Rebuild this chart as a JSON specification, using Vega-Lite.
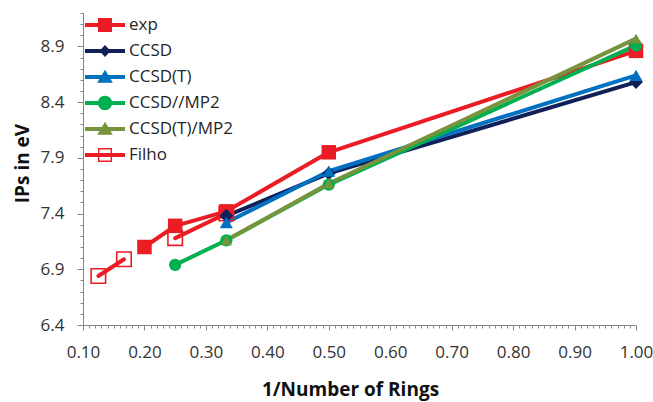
{
  "$schema": "https://vega.github.io/schema/vega-lite/v6.json",
  "width": 553,
  "height": 312,
  "autosize": "none",
  "padding": {"left": 83, "top": 13, "right": 17, "bottom": 77},
  "background": "white",
  "config": {
    "view": {"stroke": null},
    "font": "Open Sans",
    "axis": {
      "grid": false,
      "domainColor": "#868686",
      "domainWidth": 1,
      "tickColor": "#868686",
      "tickWidth": 1,
      "labelFont": "Open Sans",
      "labelFontSize": 17,
      "labelColor": "#333333",
      "labelOverlap": false,
      "labelBound": false,
      "labelFlush": false,
      "titleFont": "Open Sans",
      "titleFontSize": 19,
      "titleFontWeight": "bold",
      "titleColor": "#111111"
    }
  },
  "data": {
    "values": [
      {"x": 0.125, "y": 6.84, "series": "Filho", "seg": "a"},
      {"x": 0.1667, "y": 6.99, "series": "Filho", "seg": "a"},
      {"x": 0.25, "y": 7.18, "series": "Filho", "seg": "b"},
      {"x": 0.3333, "y": 7.4, "series": "Filho", "seg": "b"},
      {"x": 0.2, "y": 7.1, "series": "exp", "seg": "a"},
      {"x": 0.25, "y": 7.29, "series": "exp", "seg": "a"},
      {"x": 0.3333, "y": 7.42, "series": "exp", "seg": "a"},
      {"x": 0.5, "y": 7.95, "series": "exp", "seg": "a"},
      {"x": 1.0, "y": 8.86, "series": "exp", "seg": "a"},
      {"x": 0.3333, "y": 7.38, "series": "CCSD", "seg": "a"},
      {"x": 0.5, "y": 7.76, "series": "CCSD", "seg": "a"},
      {"x": 1.0, "y": 8.58, "series": "CCSD", "seg": "a"},
      {"x": 0.3333, "y": 7.32, "series": "CCSD(T)", "seg": "a"},
      {"x": 0.5, "y": 7.78, "series": "CCSD(T)", "seg": "a"},
      {"x": 1.0, "y": 8.64, "series": "CCSD(T)", "seg": "a"},
      {"x": 0.25, "y": 6.94, "series": "CCSD//MP2", "seg": "a"},
      {"x": 0.3333, "y": 7.16, "series": "CCSD//MP2", "seg": "a"},
      {"x": 0.5, "y": 7.66, "series": "CCSD//MP2", "seg": "a"},
      {"x": 1.0, "y": 8.91, "series": "CCSD//MP2", "seg": "a"},
      {"x": 0.3333, "y": 7.16, "series": "CCSD(T)/MP2", "seg": "a"},
      {"x": 0.5, "y": 7.67, "series": "CCSD(T)/MP2", "seg": "a"},
      {"x": 1.0, "y": 8.97, "series": "CCSD(T)/MP2", "seg": "a"}
    ]
  },
  "encoding": {
    "x": {
      "field": "x",
      "type": "quantitative",
      "scale": {"domain": [0.1, 1.0], "nice": false, "zero": false},
      "axis": {
        "title": "1/Number of Rings",
        "values": [0.10,0.11,0.12,0.13,0.14,0.15,0.16,0.17,0.18,0.19,0.20,0.21,0.22,0.23,0.24,0.25,0.26,0.27,0.28,0.29,0.30,0.31,0.32,0.33,0.34,0.35,0.36,0.37,0.38,0.39,0.40,0.41,0.42,0.43,0.44,0.45,0.46,0.47,0.48,0.49,0.50,0.51,0.52,0.53,0.54,0.55,0.56,0.57,0.58,0.59,0.60,0.61,0.62,0.63,0.64,0.65,0.66,0.67,0.68,0.69,0.70,0.71,0.72,0.73,0.74,0.75,0.76,0.77,0.78,0.79,0.80,0.81,0.82,0.83,0.84,0.85,0.86,0.87,0.88,0.89,0.90,0.91,0.92,0.93,0.94,0.95,0.96,0.97,0.98,0.99,1.00],
        "labelExpr": "abs(datum.value * 10 - round(datum.value * 10)) < 0.001 ? format(datum.value, '.2f') : ''",
        "tickSize": {"condition": {"test": "abs(datum.value * 10 - round(datum.value * 10)) < 0.001", "value": 5}, "value": 3},
        "labelPadding": 14,
        "titleX": 267,
        "titleY": 70,
        "titleBaseline": "alphabetic"
      }
    },
    "y": {
      "field": "y",
      "type": "quantitative",
      "scale": {"domain": [6.4, 9.2], "nice": false, "zero": false},
      "axis": {
        "title": "IPs in eV",
        "values": [6.4,6.5,6.6,6.7,6.8,6.9,7.0,7.1,7.2,7.3,7.4,7.5,7.6,7.7,7.8,7.9,8.0,8.1,8.2,8.3,8.4,8.5,8.6,8.7,8.8,8.9,9.0,9.1,9.2],
        "labelExpr": "abs((datum.value - 6.4) / 0.5 - round((datum.value - 6.4) / 0.5)) < 0.001 ? format(datum.value, '.1f') : ''",
        "tickSize": {"condition": {"test": "abs((datum.value - 6.4) / 0.5 - round((datum.value - 6.4) / 0.5)) < 0.001", "value": 6}, "value": 3},
        "labelPadding": 13,
        "titleX": -61,
        "titleY": 150,
        "titleBaseline": "middle"
      }
    },
    "color": {
      "field": "series",
      "type": "nominal",
      "scale": {
        "domain": ["exp", "CCSD", "CCSD(T)", "CCSD//MP2", "CCSD(T)/MP2", "Filho"],
        "range": ["#EC1C24", "#12205A", "#0070C0", "#00B050", "#77933C", "#EC1C24"]
      },
      "legend": {
        "orient": "none",
        "legendX": 2,
        "legendY": -1,
        "title": null,
        "padding": 0,
        "rowPadding": 0,
        "clipHeight": 26,
        "symbolSize": 1600,
        "symbolStrokeWidth": 0,
        "labelOffset": 4,
        "labelFont": "Open Sans",
        "labelFontSize": 17,
        "labelColor": "#262626",
        "labelLimit": 0,
        "encode": {
          "symbols": {
            "update": {
              "shape": {"signal": "datum.value === 'exp' ? 'M-1,-0.1H1V0.1H-1ZM-0.35,-0.35H0.35V0.35H-0.35Z' : datum.value === 'CCSD' ? 'M-1,-0.1H1V0.1H-1ZM0,-0.3L0.28,0L0,0.3L-0.28,0Z' : datum.value === 'CCSD//MP2' ? 'M-1,-0.1H1V0.1H-1ZM-0.36,0A0.36,0.36,0,1,1,0.36,0A0.36,0.36,0,1,1,-0.36,0Z' : datum.value === 'Filho' ? 'M-1,-0.1H1V0.1H-1ZM-0.35,-0.35H0.35V0.35H-0.35ZM-0.28,-0.28V0.28H0.28V-0.28Z' : 'M-1,-0.1H1V0.1H-1ZM0,-0.36L0.39,0.29H-0.39Z'"},
              "fill": {"scale": "color", "field": "value"},
              "stroke": {"value": "transparent"},
              "strokeWidth": {"value": 0},
              "opacity": {"value": 1},
              "size": {"value": 1600}
            }
          }
        }
      }
    }
  },
  "layer": [
    {
      "mark": {"type": "line", "strokeWidth": 4, "strokeCap": "round", "strokeJoin": "round"},
      "encoding": {"detail": {"field": "seg", "type": "nominal"}}
    },
    {
      "transform": [{"filter": "datum.series === 'Filho'"}],
      "mark": {"type": "point", "filled": false, "shape": "square", "size": 210, "strokeWidth": 1.6, "opacity": 1}
    },
    {
      "transform": [{"filter": "datum.series !== 'Filho'"}],
      "mark": {"type": "point", "filled": true, "opacity": 1},
      "encoding": {
        "shape": {
          "field": "series",
          "type": "nominal",
          "scale": {
            "domain": ["exp", "CCSD", "CCSD(T)", "CCSD//MP2", "CCSD(T)/MP2"],
            "range": ["square", "diamond", "triangle-up", "circle", "triangle-up"]
          },
          "legend": null
        },
        "size": {
          "field": "series",
          "type": "nominal",
          "scale": {
            "domain": ["exp", "CCSD", "CCSD(T)", "CCSD//MP2", "CCSD(T)/MP2"],
            "range": [210, 130, 250, 220, 250]
          },
          "legend": null
        }
      }
    }
  ]
}
